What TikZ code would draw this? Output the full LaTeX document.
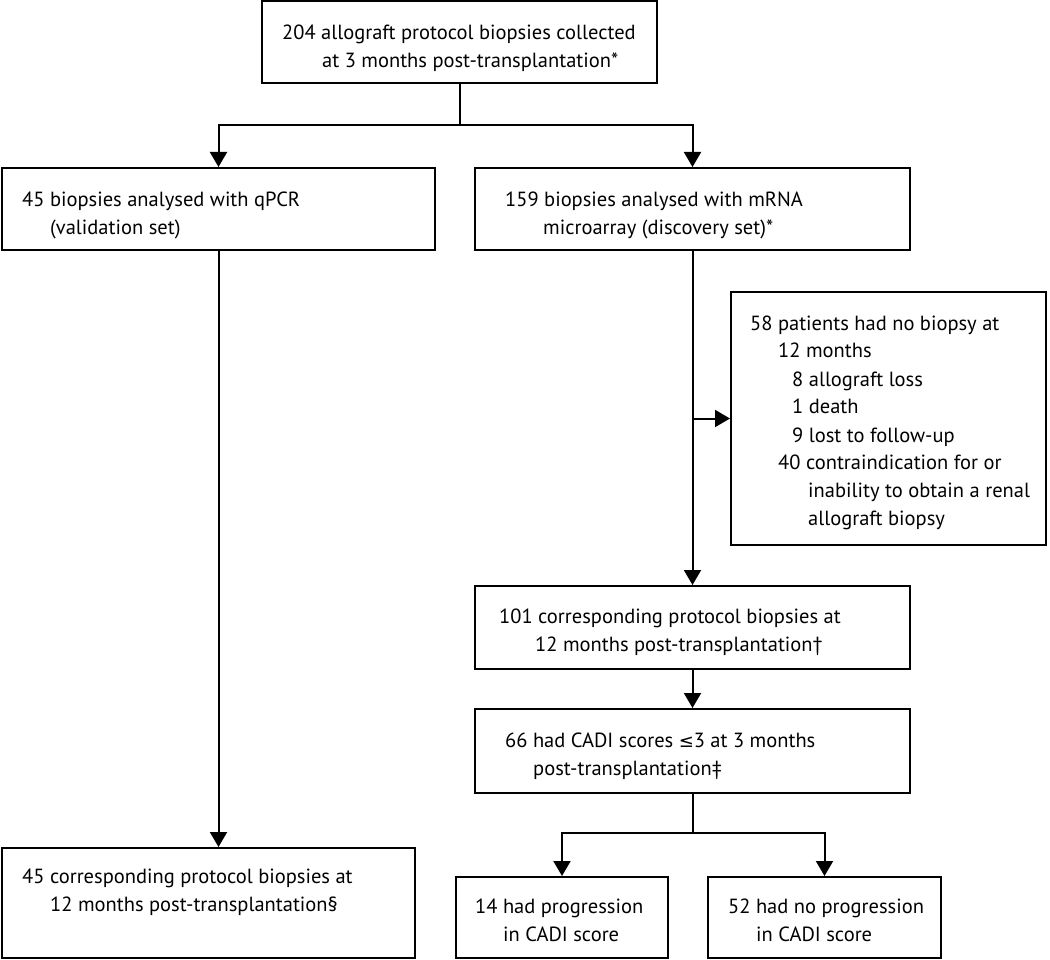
\documentclass[tikz,border=0pt]{standalone}
\usepackage{fontspec}
\setmainfont{PT Sans}
\newfontfamily\symfont{DejaVu Sans}
\usetikzlibrary{arrows.meta}
\begin{document}
\begin{tikzpicture}[x=1pt,y=-1pt,
  box/.style={draw=black,line width=2pt,rectangle,inner sep=0pt},
  txt/.style={anchor=base west,inner sep=0pt,font=\fontsize{20.5}{28}\selectfont},
  conn/.style={line width=2pt},
  arr/.style={line width=2pt,-{Triangle[length=15pt,width=17pt]}}]
\useasboundingbox (0,0) rectangle (1050,960);
% boxes
\node[box,minimum width=395pt,minimum height=82pt] (top) at (459.5,42) {};
\node[box,minimum width=433pt,minimum height=82pt] (L1) at (218.5,209) {};
\node[box,minimum width=435pt,minimum height=82pt] (R1) at (692.5,209) {};
\node[box,minimum width=315pt,minimum height=253pt] (side) at (888.5,418.5) {};
\node[box,minimum width=435pt,minimum height=83pt] (B101) at (692.5,627.5) {};
\node[box,minimum width=435pt,minimum height=84pt] (B66) at (692.5,751) {};
\node[box,minimum width=413pt,minimum height=110pt] (BL) at (208.5,903) {};
\node[box,minimum width=212pt,minimum height=81pt] (P14) at (562,917.5) {};
\node[box,minimum width=233pt,minimum height=81pt] (P52) at (824.5,917.5) {};
% texts
\node[txt] (ttop) at (282,40) {\parbox[t]{380pt}{204 allograft protocol biopsies collected\\\hspace*{40pt}at 3 months post-transplantation*}};
\node[txt] (tL1) at (22,207) {\parbox[t]{400pt}{45 biopsies analysed with qPCR\\\hspace*{28pt}(validation set)}};
\node[txt] (tR1) at (505,207) {\parbox[t]{400pt}{159 biopsies analysed with mRNA\\\hspace*{38pt}microarray (discovery set)*}};
\node[txt] (tside) at (750,330) {\parbox[t]{300pt}{58 patients had no biopsy at\\\hspace*{28pt}12 months\\\hspace*{42pt}8 allograft loss\\\hspace*{42pt}1 death\\\hspace*{42pt}9 lost to follow-up\\\hspace*{28pt}40 contraindication for or\\\hspace*{58pt}inability to obtain a renal\\\hspace*{58pt}allograft biopsy}};
\node[txt] (tB101) at (499,623) {\parbox[t]{400pt}{101 corresponding protocol biopsies at\\\hspace*{36pt}12 months post-transplantation†}};
\node[txt] (tB66) at (505,747) {\parbox[t]{400pt}{66 had CADI scores {\symfont\fontsize{18}{28}\selectfont ≤}3 at 3 months\\\hspace*{28pt}post-transplantation‡}};
\node[txt] (tBL) at (22,883) {\parbox[t]{390pt}{45 corresponding protocol biopsies at\\\hspace*{28pt}12 months post-transplantation§}};
\node[txt] (tP14) at (475,913) {\parbox[t]{200pt}{14 had progression\\\hspace*{28pt}in CADI score}};
\node[txt] (tP52) at (728,913) {\parbox[t]{220pt}{52 had no progression\\\hspace*{28pt}in CADI score}};
% connectors
\coordinate (j1) at (459.5,125);
\coordinate (j3) at (692.5,833);
\draw[conn] (top.south) -- (j1);
\draw[arr] (j1) -| (L1.north);
\draw[arr] (j1) -| (R1.north);
\draw[arr] (L1.south) -- (L1.south |- BL.north);
\draw[arr] (R1.south) -- (B101.north);
\draw[arr] (R1.south |- side.west) -- (side.west);
\draw[arr] (B101.south) -- (B66.north);
\draw[conn] (B66.south) -- (j3);
\draw[arr] (j3) -| (P14.north);
\draw[arr] (j3) -| (P52.north);
\end{tikzpicture}
\end{document}
